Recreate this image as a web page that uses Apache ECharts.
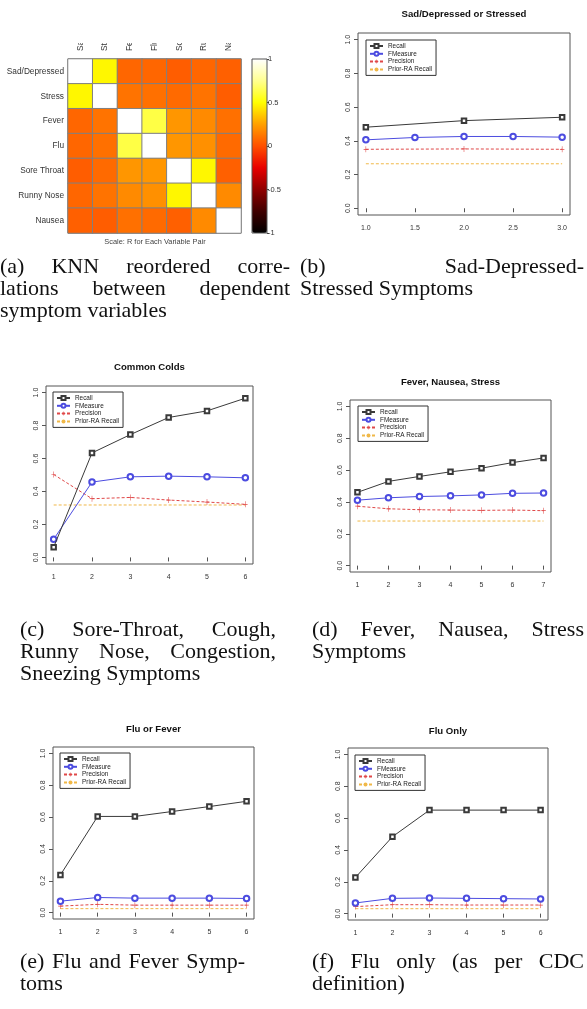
<!DOCTYPE html>
<html><head><meta charset="utf-8">
<script src="https://cdn.jsdelivr.net/npm/echarts@6/dist/echarts.min.js"></script>
<style>
html,body{margin:0;padding:0;background:#fff;}
#chart{position:absolute;left:0;top:0;width:587px;height:1009px;}
.cap{position:absolute;font-family:"Liberation Serif","DejaVu Serif",serif;font-size:22px;line-height:22px;color:#111;}
.cap div{white-space:nowrap;}
.cap div.j{text-align:justify;text-align-last:justify;white-space:normal;}
</style></head><body>
<div id="chart"></div>
<script>
// ---------- Panel (a): correlation heatmap ----------
const symptoms = ['Sad/Depressed','Stress','Fever','Flu','Sore Throat','Runny Nose','Nausea'];
const corrSad    = [1.00, 0.48, 0.07, 0.07, 0.04, 0.07, 0.05];
const corrStress = [0.48, 1.00, 0.11, 0.10, 0.08, 0.11, 0.04];
const corrFever  = [0.07, 0.11, 1.00, 0.62, 0.22, 0.18, 0.10];
const corrFlu    = [0.07, 0.10, 0.62, 1.00, 0.22, 0.20, 0.08];
const corrSore   = [0.04, 0.08, 0.22, 0.22, 1.00, 0.48, 0.05];
const corrRunny  = [0.07, 0.11, 0.18, 0.20, 0.48, 1.00, 0.18];
const corrNausea = [0.05, 0.04, 0.10, 0.08, 0.05, 0.18, 1.00];
const scaleTicks = [-1, -0.5, 0, 0.5, 1];

// ---------- Line panels ----------
const seriesNames = ['Recall','FMeasure','Precision','Prior-RA Recall'];
const yTicks = [0, 0.2, 0.4, 0.6, 0.8, 1.0];

// (b) Sad/Depressed or Stressed
const bTicks = [1, 1.5, 2, 2.5, 3];
const bRecallX = [1, 2, 3];
const bRecall = [0.481, 0.520, 0.540];
const bFmeasureX = [1, 1.5, 2, 2.5, 3];
const bFmeasure = [0.406, 0.420, 0.426, 0.426, 0.422];
const bPrecisionX = [1, 2, 3];
const bPrecision = [0.350, 0.352, 0.350];
const bPriorX = [1, 2, 3];
const bPrior = [0.264, 0.264, 0.264];

// (c) Common Colds
const cX = [1, 2, 3, 4, 5, 6];
const cRecall = [0.062, 0.634, 0.745, 0.849, 0.889, 0.966];
const cFmeasure = [0.110, 0.457, 0.489, 0.493, 0.489, 0.483];
const cPrecision = [0.503, 0.356, 0.364, 0.348, 0.336, 0.322];
const cPrior = [0.318, 0.318, 0.318, 0.318, 0.318, 0.318];

// (d) Fever, Nausea, Stress
const dX = [1, 2, 3, 4, 5, 6, 7];
const dRecall = [0.460, 0.529, 0.560, 0.589, 0.612, 0.647, 0.676];
const dFmeasure = [0.411, 0.426, 0.434, 0.438, 0.444, 0.454, 0.456];
const dPrecision = [0.373, 0.357, 0.351, 0.349, 0.347, 0.349, 0.345];
const dPrior = [0.280, 0.280, 0.280, 0.280, 0.280, 0.280, 0.280];

// (e) Flu or Fever
const eX = [1, 2, 3, 4, 5, 6];
const eRecall = [0.237, 0.604, 0.604, 0.635, 0.666, 0.699];
const eFmeasure = [0.072, 0.095, 0.091, 0.091, 0.091, 0.089];
const ePrecision = [0.041, 0.052, 0.047, 0.047, 0.047, 0.047];
const ePrior = [0.025, 0.025, 0.025, 0.025, 0.025, 0.025];

// (f) Flu Only
const fX = [1, 2, 3, 4, 5, 6];
const fRecall = [0.227, 0.483, 0.650, 0.650, 0.650, 0.650];
const fFmeasure = [0.067, 0.096, 0.098, 0.096, 0.094, 0.092];
const fPrecision = [0.044, 0.056, 0.056, 0.054, 0.054, 0.054];
const fPrior = [0.031, 0.031, 0.031, 0.031, 0.031, 0.031];

const titles = ['Sad/Depressed or Stressed', 'Common Colds', 'Fever, Nausea, Stress', 'Flu or Fever', 'Flu Only'];
const captions = {
  a: ['(a) KNN reordered corre-', 'lations between dependent', 'symptom variables'],
  b: ['(b) Sad-Depressed-', 'Stressed Symptoms'],
  c: ['(c) Sore-Throat, Cough,', 'Runny Nose, Congestion,', 'Sneezing Symptoms'],
  d: ['(d) Fever, Nausea, Stress', 'Symptoms'],
  e: ['(e) Flu and Fever Symp-', 'toms'],
  f: ['(f) Flu only (as per CDC', 'definition)']
};

// ---------- captions (HTML, justified like LaTeX) ----------
const capPos = {
  a: {left: 0, top: 255, width: 290},
  b: {left: 300, top: 255, width: 284},
  c: {left: 20, top: 618, width: 256},
  d: {left: 312, top: 618, width: 272},
  e: {left: 20, top: 950, width: 225},
  f: {left: 312, top: 950, width: 272}
};
Object.keys(captions).forEach(k => {
  const box = document.createElement('div');
  box.className = 'cap';
  const p = capPos[k];
  box.style.left = p.left + 'px'; box.style.top = p.top + 'px'; box.style.width = p.width + 'px';
  captions[k].forEach((line, i) => {
    const d = document.createElement('div');
    if (i < captions[k].length - 1) d.className = 'j';
    d.textContent = line;
    box.appendChild(d);
  });
  document.body.appendChild(box);
});

// ---------- chart ----------
const FONT = '"Liberation Sans", Arial, sans-serif';
const COL = {recall: '#3a3a3a', fm: '#4c4ce0', prec: '#e04848', prior: '#f0b848'};
const PLUS = 'path://M4.4,0H5.6V4.4H10V5.6H5.6V10H4.4V5.6H0V4.4H4.4Z';
const pairs = (xs, ys) => xs.map((x, i) => [x, ys[i]]);

const heatRows = [corrSad, corrStress, corrFever, corrFlu, corrSore, corrRunny, corrNausea];
const heatData = [];
heatRows.forEach((row, i) => row.forEach((v, j) => heatData.push([j, i, v])));

const panels = [
  {grid: {left: 358, top: 33, width: 212, height: 182}, xmin: 0.92, xmax: 3.08, ticks: bTicks, dec: 1,
   r: pairs(bRecallX, bRecall), fm: pairs(bFmeasureX, bFmeasure), pr: pairs(bPrecisionX, bPrecision), pa: pairs(bPriorX, bPrior),
   legend: {left: 366, top: 40}},
  {grid: {left: 46, top: 386, width: 207, height: 178}, xmin: 0.8, xmax: 6.2, ticks: cX, dec: 0,
   r: pairs(cX, cRecall), fm: pairs(cX, cFmeasure), pr: pairs(cX, cPrecision), pa: pairs(cX, cPrior),
   legend: {left: 53, top: 392}},
  {grid: {left: 350, top: 400, width: 201, height: 172}, xmin: 0.76, xmax: 7.24, ticks: dX, dec: 0,
   r: pairs(dX, dRecall), fm: pairs(dX, dFmeasure), pr: pairs(dX, dPrecision), pa: pairs(dX, dPrior),
   legend: {left: 358, top: 406}},
  {grid: {left: 53, top: 747, width: 201, height: 172}, xmin: 0.8, xmax: 6.2, ticks: eX, dec: 0,
   r: pairs(eX, eRecall), fm: pairs(eX, eFmeasure), pr: pairs(eX, ePrecision), pa: pairs(eX, ePrior),
   legend: {left: 60, top: 753}},
  {grid: {left: 348, top: 748, width: 200, height: 172}, xmin: 0.8, xmax: 6.2, ticks: fX, dec: 0,
   r: pairs(fX, fRecall), fm: pairs(fX, fFmeasure), pr: pairs(fX, fPrecision), pa: pairs(fX, fPrior),
   legend: {left: 355, top: 755}}
];

const grids = [
  {left: 68, top: 59, width: 173, height: 174, show: true, borderColor: '#777', borderWidth: 1, backgroundColor: 'transparent'},
  {left: 252, top: 59, width: 15, height: 174, show: false}
];
const xAxes = [
  {type: 'category', gridIndex: 0, position: 'top', data: symptoms, axisLine: {show: false}, axisTick: {show: false},
   axisLabel: {show: false}},
  {type: 'category', gridIndex: 1, data: ['scale'], show: false}
];
const yAxes = [
  {type: 'category', gridIndex: 0, inverse: true, data: symptoms, axisLine: {show: false}, axisTick: {show: false},
   axisLabel: {fontSize: 8.3, color: '#333', fontFamily: FONT, margin: 4, interval: 0}},
  {type: 'value', gridIndex: 1, position: 'right', min: -1, max: 1, interval: 0.5, splitLine: {show: false},
   axisLine: {show: false}, axisTick: {show: true, length: 2, lineStyle: {color: '#444'}},
   axisLabel: {fontSize: 7.5, color: '#333', fontFamily: FONT, margin: 1}}
];
const series = [
  {type: 'heatmap', xAxisIndex: 0, yAxisIndex: 0, data: heatData, itemStyle: {borderColor: '#808080', borderWidth: 1}, animation: false}
];
const legends = [];
const graphics = [];

panels.forEach((p, k) => {
  const gi = k + 2;
  grids.push(Object.assign({show: true, borderColor: '#555', borderWidth: 1, backgroundColor: 'transparent'}, p.grid));
  xAxes.push({type: 'value', gridIndex: gi, min: p.xmin, max: p.xmax, axisLine: {show: false}, splitLine: {show: false},
    axisTick: {show: true, customValues: p.ticks, length: 4, lineStyle: {color: '#555'}},
    axisLabel: {customValues: p.ticks, fontSize: 7, color: '#333', fontFamily: FONT, margin: 10, formatter: v => v.toFixed(p.dec)}});
  yAxes.push({type: 'value', gridIndex: gi, min: -0.04, max: 1.04, axisLine: {show: false}, splitLine: {show: false},
    axisTick: {show: true, customValues: yTicks, length: 4, lineStyle: {color: '#555'}},
    axisLabel: {customValues: yTicks, rotate: 90, fontSize: 7, color: '#333', fontFamily: FONT, margin: 6, formatter: v => v.toFixed(1)}});
  series.push(
    {type: 'line', name: seriesNames[3], xAxisIndex: gi, yAxisIndex: gi, data: p.pa, symbol: 'none',
     lineStyle: {color: COL.prior, width: 1, type: [3, 2]}, itemStyle: {color: COL.prior}, animation: false, z: 2},
    {type: 'line', name: seriesNames[2], xAxisIndex: gi, yAxisIndex: gi, data: p.pr, symbol: PLUS, symbolSize: [4.5, 6],
     lineStyle: {color: COL.prec, width: 1, type: [3, 2]}, itemStyle: {color: COL.prec}, animation: false, z: 3},
    {type: 'line', name: seriesNames[1], xAxisIndex: gi, yAxisIndex: gi, data: p.fm, symbol: 'emptyCircle', symbolSize: 5.5,
     lineStyle: {color: COL.fm, width: 1}, itemStyle: {color: COL.fm, borderWidth: 1}, animation: false, z: 4},
    {type: 'line', name: seriesNames[0], xAxisIndex: gi, yAxisIndex: gi, data: p.r, symbol: 'emptyRect', symbolSize: 4.5,
     lineStyle: {color: COL.recall, width: 1}, itemStyle: {color: COL.recall, borderWidth: 1}, animation: false, z: 5}
  );
  legends.push({left: p.legend.left, top: p.legend.top, orient: 'vertical', data: seriesNames, selectedMode: false,
    padding: [3, 4, 3, 3], itemGap: 1.8, itemWidth: 13, itemHeight: 5,
    borderColor: '#333', borderWidth: 1, borderRadius: 0, backgroundColor: '#fff',
    textStyle: {fontSize: 6.4, color: '#222', fontFamily: FONT}});
  const cx = p.grid.left + p.grid.width / 2;
  graphics.push({type: 'text', id: 'title' + k, x: cx, y: [14, 367, 382, 729, 731][k], z: 50,
    style: {text: titles[k], align: 'center', verticalAlign: 'middle', font: 'bold 9.6px ' + FONT, fill: '#111'}});
});

graphics.push(
  {type: 'rect', id: 'cover', shape: {x: 55, y: 0, width: 200, height: 43}, style: {fill: '#fff'}, z: 1000},
  {type: 'rect', id: 'barframe', shape: {x: 252, y: 59, width: 15, height: 174}, style: {fill: 'none', stroke: '#555', lineWidth: 1}, z: 60},
  {type: 'text', id: 'scaletext', x: 155, y: 242, z: 50, style: {text: 'Scale: R for Each Variable Pair', align: 'center', verticalAlign: 'middle', font: '7.4px ' + FONT, fill: '#444'}}
);

const chart = echarts.init(document.getElementById('chart'), null, {renderer: 'canvas'});
chart.setOption({
  animation: false,
  backgroundColor: '#fff',
  grid: grids,
  xAxis: xAxes,
  yAxis: yAxes,
  visualMap: {type: 'continuous', seriesIndex: 0, min: -1, max: 1, show: true, calculable: false,
    left: 252, top: 59, itemWidth: 15, itemHeight: 174, padding: 0, orient: 'vertical',
    inRange: {color: ['#000000', '#400000', '#900000', '#e80000', '#ff5000', '#ffa000', '#ffff00', '#ffff90', '#ffffff']}},
  legend: legends,
  graphic: graphics,
  series: series
});

// column labels above the heatmap (R style: perpendicular, starting at the axis, reading upwards)
const c0 = chart.convertToPixel({gridIndex: 0}, [0, 0]);
const c1 = chart.convertToPixel({gridIndex: 0}, [0, 1]);
const heatTop = c0[1] - (c1[1] - c0[1]) / 2;
const colLabels = symptoms.map((s, j) => {
  const px = chart.convertToPixel({gridIndex: 0}, [j, 0])[0];
  return {type: 'text', id: 'col' + j, x: px, y: heatTop - 8, rotation: Math.PI / 2, z: 40,
    style: {text: s, align: 'left', verticalAlign: 'middle', font: '8.3px ' + FONT, fill: '#333'}};
});
chart.setOption({graphic: graphics.concat(colLabels)});
</script>
</body></html>
